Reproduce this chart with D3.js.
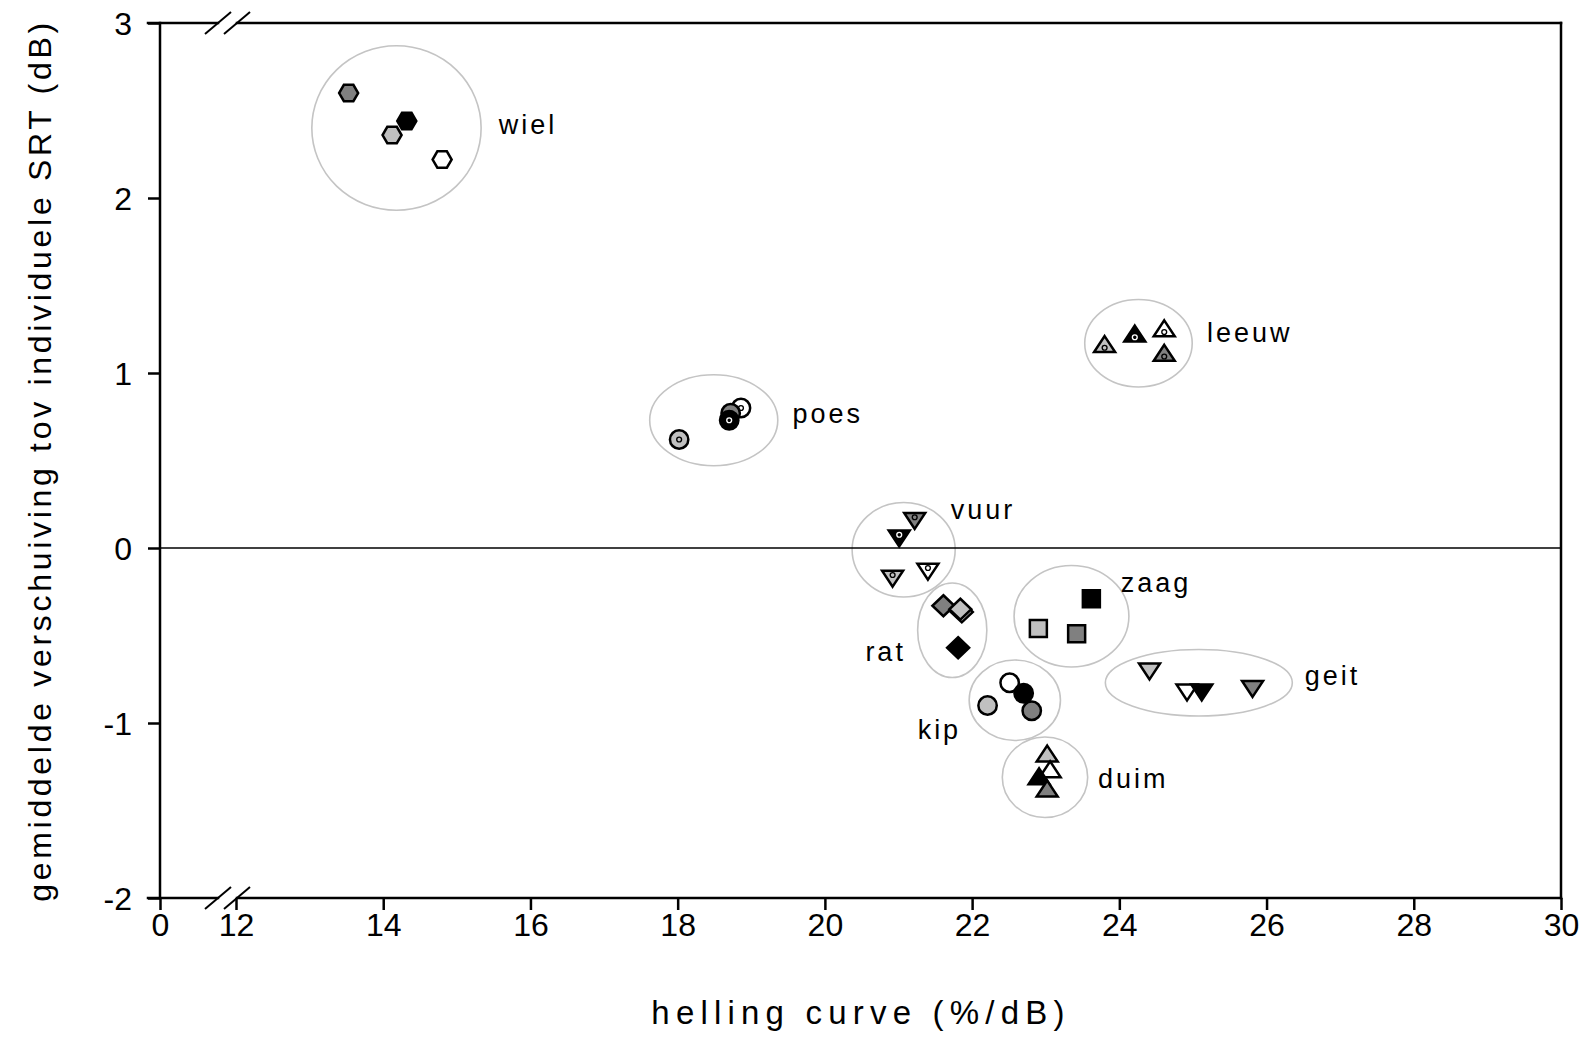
<!DOCTYPE html>
<html>
<head>
<meta charset="utf-8">
<script src="https://cdn.jsdelivr.net/npm/d3@7"></script>
<style>
  body { margin: 0; background: #fff; }
  text { font-family: "Liberation Sans", Arial, sans-serif; fill: #000; }
</style>
</head>
<body>
<div id="chart"></div>
<script>
(function() {
    var width = 1586,
        height = 1038;

    // x ticks (axis is broken between 0 and 12)
    var xTicks = [0, 12, 14, 16, 18, 20, 22, 24, 26, 28, 30];
    var yTicks = [-2, -1, 0, 1, 2, 3];

    // four conditions: 0 = wit, 1 = lichtgrijs, 2 = donkergrijs, 3 = zwart
    var conditionFill = ["#ffffff", "#c0c0c0", "#808080", "#000000"];

    // word -> marker shape, dotted or not
    var words   = ["wiel", "leeuw", "poes", "vuur", "rat", "zaag", "geit", "kip", "duim"];
    var shapes  = ["hexagon", "triUp", "circle", "triDown", "diamond", "square", "triDown", "circle", "triUp"];
    var dotted  = [false, true, true, true, false, false, false, false, false];

    // points: [word, condition, helling (%/dB), verschuiving (dB)]  -- in drawing order
    var points = [
        ["wiel", 2, 13.53, 2.60], ["wiel", 3, 14.32, 2.44], ["wiel", 1, 14.12, 2.36], ["wiel", 0, 14.80, 2.22],
        ["leeuw", 1, 23.80, 1.15], ["leeuw", 3, 24.21, 1.21], ["leeuw", 0, 24.61, 1.24], ["leeuw", 2, 24.61, 1.10],
        ["poes", 1, 18.02, 0.62], ["poes", 0, 18.86, 0.80], ["poes", 2, 18.72, 0.77], ["poes", 3, 18.70, 0.73],
        ["vuur", 2, 21.22, 0.17], ["vuur", 3, 21.01, 0.07], ["vuur", 1, 20.92, -0.16], ["vuur", 0, 21.40, -0.12],
        ["rat", 2, 21.61, -0.33], ["rat", 0, 21.86, -0.365], ["rat", 1, 21.84, -0.35], ["rat", 3, 21.81, -0.57],
        ["zaag", 1, 22.90, -0.46], ["zaag", 2, 23.42, -0.49], ["zaag", 3, 23.62, -0.29],
        ["geit", 1, 24.41, -0.69], ["geit", 0, 24.92, -0.81], ["geit", 3, 25.12, -0.81], ["geit", 2, 25.81, -0.79],
        ["kip", 0, 22.51, -0.77], ["kip", 3, 22.70, -0.83], ["kip", 1, 22.21, -0.90], ["kip", 2, 22.81, -0.93],
        ["duim", 1, 23.02, -1.19], ["duim", 0, 23.06, -1.28], ["duim", 3, 22.91, -1.32], ["duim", 2, 23.02, -1.39]
    ];

    // cluster ellipses around each word: [word, centre x, centre y, radius x, radius y]
    var clusters = [
        ["wiel", 14.18, 2.40, 1.15, 0.47],
        ["leeuw", 24.26, 1.17, 0.73, 0.25],
        ["poes", 18.49, 0.73, 0.87, 0.26],
        ["vuur", 21.07, -0.01, 0.70, 0.27],
        ["rat", 21.73, -0.47, 0.47, 0.27],
        ["zaag", 23.35, -0.39, 0.78, 0.29],
        ["geit", 25.08, -0.77, 1.27, 0.19],
        ["kip", 22.58, -0.87, 0.62, 0.23],
        ["duim", 22.99, -1.31, 0.58, 0.23]
    ];

    // word labels: [word, x, y]
    var labels = [
        ["wiel", 15.57, 2.42], ["leeuw", 25.19, 1.23], ["poes", 19.56, 0.77],
        ["vuur", 21.71, 0.22], ["zaag", 24.02, -0.20], ["rat", 20.55, -0.59],
        ["geit", 26.52, -0.73], ["kip", 21.26, -1.04], ["duim", 23.71, -1.32]
    ];

    var svg = d3.select("#chart")
        .append("svg")
        .attr("width", width)
        .attr("height", height);

    var x = d3.scaleLinear().domain([0, 12, 30]).range([160, 236, 1561]);
    var y = d3.scaleLinear().domain([-2, 3]).range([898, 23]);

    // shape geometry around (0,0)
    function shapePath(kind) {
        var p = d3.path();
        if (kind === "hexagon") {
            var r = 9.5;
            for (var i = 0; i < 6; i++) {
                var a = Math.PI / 3 * i;
                if (i === 0) p.moveTo(r * Math.cos(a), r * Math.sin(a));
                else p.lineTo(r * Math.cos(a), r * Math.sin(a));
            }
            p.closePath();
        } else if (kind === "triUp" || kind === "triDown") {
            var w = 21, h = 16, s = kind === "triUp" ? 1 : -1;
            p.moveTo(0, -s * 2 * h / 3);
            p.lineTo(w / 2, s * h / 3);
            p.lineTo(-w / 2, s * h / 3);
            p.closePath();
        } else if (kind === "circle") {
            p.arc(0, 0, 9.2, 0, 2 * Math.PI);
        } else if (kind === "square") {
            p.rect(-8.5, -8.5, 17, 17);
        } else if (kind === "diamond") {
            p.moveTo(0, -10.5);
            p.lineTo(11, 0);
            p.lineTo(0, 10.5);
            p.lineTo(-11, 0);
            p.closePath();
        }
        return p.toString();
    }

    // ellipses
    svg.selectAll(".cluster")
        .data(clusters)
        .enter()
        .append("ellipse")
        .attr("class", "cluster")
        .attr("cx", function(d) { return x(d[1]); })
        .attr("cy", function(d) { return y(d[2]); })
        .attr("rx", function(d) { return x(d[1] + d[3]) - x(d[1]); })
        .attr("ry", function(d) { return y(d[2] - d[4]) - y(d[2]); })
        .attr("fill", "none")
        .attr("stroke", "#c4c4c4")
        .attr("stroke-width", 1.6);

    // zero line
    svg.append("line")
        .attr("x1", x(0)).attr("x2", x(30))
        .attr("y1", y(0)).attr("y2", y(0))
        .attr("stroke", "#000")
        .attr("stroke-width", 1.5);

    // axes
    var xAxis = svg.append("g")
        .attr("transform", "translate(0," + y(-2) + ")")
        .call(d3.axisBottom(x).tickValues(xTicks).tickSize(12).tickSizeOuter(0).tickPadding(3));
    var yAxis = svg.append("g")
        .attr("transform", "translate(" + x(0) + ",0)")
        .call(d3.axisLeft(y).tickValues(yTicks).tickSize(12).tickSizeOuter(0).tickPadding(16)
            .tickFormat(function(d) { return d < 0 ? "-" + Math.abs(d) : d; }));

    [xAxis, yAxis].forEach(function(g) {
        g.select(".domain").remove();
        g.selectAll(".tick line").attr("stroke", "#000").attr("stroke-width", 2.5);
        g.selectAll(".tick text")
            .style("font-family", "'Liberation Sans', Arial, sans-serif")
            .style("font-size", "32px")
            .attr("fill", "#000");
    });
    yAxis.selectAll(".tick text").attr("dy", "0.36em");

    // frame lines (with break between 0 and 12 on top and bottom)
    var brk1 = 218, brk2 = 237;
    var frame = [
        [x(0) - 12, y(-2), brk1, y(-2)], [brk2, y(-2), x(30), y(-2)],
        [x(0) - 12, y(3), brk1, y(3)], [brk2, y(3), x(30), y(3)],
        [x(0), y(3), x(0), y(-2)], [x(30), y(3), x(30), y(-2)]
    ];
    svg.selectAll(".frame")
        .data(frame)
        .enter()
        .append("line")
        .attr("class", "frame")
        .attr("x1", function(d) { return d[0]; })
        .attr("y1", function(d) { return d[1]; })
        .attr("x2", function(d) { return d[2]; })
        .attr("y2", function(d) { return d[3]; })
        .attr("stroke", "#000")
        .attr("stroke-width", 2.5)
        .attr("stroke-linecap", "square");

    // break slashes
    [y(-2), y(3)].forEach(function(yy) {
        [brk1, brk2].forEach(function(xx) {
            svg.append("line")
                .attr("x1", xx - 13).attr("y1", yy + 11)
                .attr("x2", xx + 13).attr("y2", yy - 11)
                .attr("stroke", "#000")
                .attr("stroke-width", 2);
        });
    });

    // markers
    var marks = svg.selectAll(".mark")
        .data(points)
        .enter()
        .append("g")
        .attr("class", "mark")
        .attr("transform", function(d) { return "translate(" + x(d[2]) + "," + y(d[3]) + ")"; });

    marks.append("path")
        .attr("d", function(d) { return shapePath(shapes[words.indexOf(d[0])]); })
        .attr("fill", function(d) { return conditionFill[d[1]]; })
        .attr("stroke", "#000")
        .attr("stroke-width", 2.5)
        .attr("stroke-linejoin", "miter");

    marks.filter(function(d) { return dotted[words.indexOf(d[0])]; })
        .append("circle")
        .attr("r", 2.4)
        .attr("cy", function(d) { return shapes[words.indexOf(d[0])] === "triUp" ? 1 : (shapes[words.indexOf(d[0])] === "triDown" ? -1 : 0); })
        .attr("fill", "none")
        .attr("stroke", function(d) { return d[1] === 3 ? "#fff" : "#000"; })
        .attr("stroke-width", 1.4);

    // word labels
    svg.selectAll(".wlabel")
        .data(labels)
        .enter()
        .append("text")
        .attr("class", "wlabel")
        .attr("x", function(d) { return x(d[1]); })
        .attr("y", function(d) { return y(d[2]); })
        .attr("dy", "0.35em")
        .style("font-size", "27px")
        .style("letter-spacing", "3px")
        .text(function(d) { return d[0]; });

    // axis titles
    svg.append("text")
        .attr("x", 861)
        .attr("y", 1012)
        .attr("dy", "0.35em")
        .attr("text-anchor", "middle")
        .style("font-size", "33px")
        .style("letter-spacing", "6.2px")
        .text("helling curve (%/dB)");

    svg.append("text")
        .attr("transform", "translate(40," + y(0.5) + ") rotate(-90)")
        .attr("dy", "0.35em")
        .attr("text-anchor", "middle")
        .style("font-size", "32px")
        .style("letter-spacing", "3.7px")
        .text("gemiddelde verschuiving tov individuele SRT (dB)");
})();
</script>
</body>
</html>
